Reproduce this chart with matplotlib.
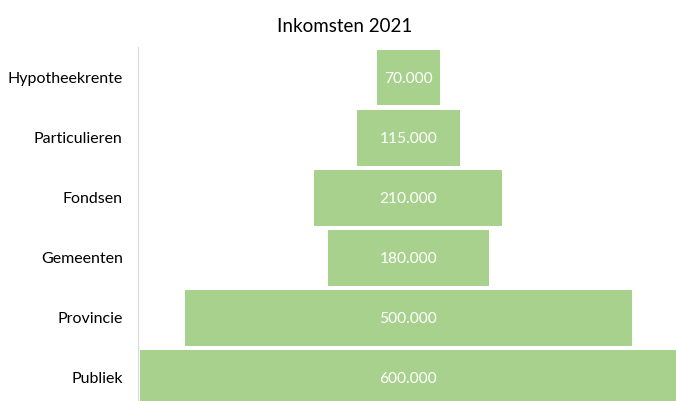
import numpy as np
import matplotlib.pyplot as plt

categories = ['Hypotheekrente', 'Particulieren', 'Fondsen', 'Gemeenten', 'Provincie', 'Publiek']
values = [70000, 115000, 210000, 180000, 500000, 600000]
value_labels = ['70.000', '115.000', '210.000', '180.000', '500.000', '600.000']

green = '#A9D18E'
plt.rcParams['font.family'] = ['Lato', 'DejaVu Sans']

fig = plt.figure(figsize=(6.76, 4.01), dpi=100)
ax = fig.add_axes([138 / 676, 0, 538 / 676, 354 / 401])

n = len(categories)
ypos = np.arange(n)[::-1]
vals = np.array(values)
ax.barh(ypos, vals, left=-vals / 2, height=0.93, color=green)

for y, v, lab in zip(ypos, vals, value_labels):
    ax.text(0, y - 0.02, lab, ha='center', va='center', color='white', fontsize=11.2)

ax.set_yticks(ypos)
ax.set_yticklabels(categories, fontsize=11.5)
ax.tick_params(axis='y', length=0, pad=11)
ax.set_xticks([])
ax.set_xlim(-302000, 299000)
ax.set_ylim(-0.383, n - 1 + 0.508)

for s in ['top', 'right', 'bottom']:
    ax.spines[s].set_visible(False)
ax.spines['left'].set_color('#D9D9D9')

fig.text(345 / 676, 1 - 27 / 401, 'Inkomsten 2021', ha='center', va='center', fontsize=13.5)

fig.savefig('out.png', dpi=100)
